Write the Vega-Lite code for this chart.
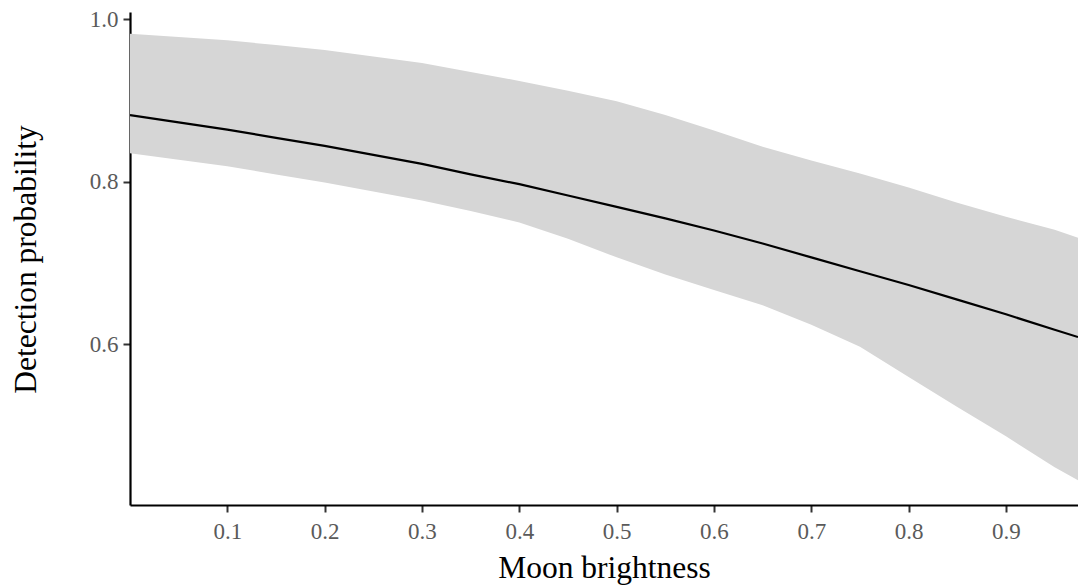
{
  "$schema": "https://vega.github.io/schema/vega-lite/v6.json",
  "width": 948,
  "height": 493,
  "autosize": "none",
  "padding": {"left": 130, "top": 12, "right": 0, "bottom": 80},
  "background": "white",
  "config": {
    "view": {"stroke": null},
    "font": "Liberation Serif"
  },
  "data": {
    "values": [
      {"moon": 0.0, "fit": 0.882, "lower": 0.835, "upper": 0.982},
      {"moon": 0.05, "fit": 0.873, "lower": 0.827, "upper": 0.978},
      {"moon": 0.1, "fit": 0.864, "lower": 0.819, "upper": 0.974},
      {"moon": 0.15, "fit": 0.854, "lower": 0.809, "upper": 0.968},
      {"moon": 0.2, "fit": 0.844, "lower": 0.799, "upper": 0.962},
      {"moon": 0.25, "fit": 0.833, "lower": 0.788, "upper": 0.954},
      {"moon": 0.3, "fit": 0.822, "lower": 0.777, "upper": 0.946},
      {"moon": 0.35, "fit": 0.809, "lower": 0.764, "upper": 0.935},
      {"moon": 0.4, "fit": 0.797, "lower": 0.75, "upper": 0.924},
      {"moon": 0.45, "fit": 0.783, "lower": 0.73, "upper": 0.912},
      {"moon": 0.5, "fit": 0.769, "lower": 0.707, "upper": 0.899},
      {"moon": 0.55, "fit": 0.755, "lower": 0.686, "upper": 0.882},
      {"moon": 0.6, "fit": 0.74, "lower": 0.667, "upper": 0.863},
      {"moon": 0.65, "fit": 0.724, "lower": 0.648, "upper": 0.843},
      {"moon": 0.7, "fit": 0.707, "lower": 0.624, "upper": 0.826},
      {"moon": 0.75, "fit": 0.69, "lower": 0.597, "upper": 0.81},
      {"moon": 0.8, "fit": 0.673, "lower": 0.56, "upper": 0.793},
      {"moon": 0.85, "fit": 0.655, "lower": 0.523, "upper": 0.774},
      {"moon": 0.9, "fit": 0.637, "lower": 0.487, "upper": 0.757},
      {"moon": 0.95, "fit": 0.618, "lower": 0.449, "upper": 0.741},
      {"moon": 0.974, "fit": 0.609, "lower": 0.433, "upper": 0.731}
    ]
  },
  "encoding": {
    "x": {
      "field": "moon",
      "type": "quantitative",
      "title": "Moon brightness",
      "scale": {"domain": [0, 0.974], "nice": false, "zero": false},
      "axis": {
        "values": [0.1, 0.2, 0.3, 0.4, 0.5, 0.6, 0.7, 0.8, 0.9],
        "format": ".1f",
        "grid": false,
        "domainColor": "#000000",
        "domainWidth": 2.2,
        "tickColor": "#333333",
        "tickWidth": 2,
        "tickSize": 7,
        "labelFont": "Liberation Serif",
        "labelFontSize": 23,
        "labelColor": "#5a5a5a",
        "labelPadding": 8,
        "titleFont": "Liberation Serif",
        "titleFontSize": 31.5,
        "titleFontWeight": "normal",
        "titleColor": "#000000",
        "titleBaseline": "alphabetic",
        "titleY": 72
      }
    }
  },
  "layer": [
    {
      "mark": {"type": "area", "color": "#d6d6d6", "opacity": 1, "clip": true},
      "encoding": {
        "y": {
          "field": "lower",
          "type": "quantitative",
          "title": "Detection probability",
          "scale": {"domain": [0.4025, 1.0087], "nice": false, "zero": false},
          "axis": {
            "values": [0.6, 0.8, 1.0],
            "format": ".1f",
            "grid": false,
            "domainColor": "#000000",
            "domainWidth": 2.2,
            "tickColor": "#333333",
            "tickWidth": 2,
            "tickSize": 7,
            "labelFont": "Liberation Serif",
            "labelFontSize": 23,
            "labelColor": "#5a5a5a",
            "labelPadding": 5,
            "titleFont": "Liberation Serif",
            "titleFontSize": 31.5,
            "titleFontWeight": "normal",
            "titleColor": "#000000",
            "titleBaseline": "alphabetic",
            "titleAngle": 270,
            "titleX": -95,
            "titleY": 247
          }
        },
        "y2": {"field": "upper"}
      }
    },
    {
      "mark": {"type": "line", "color": "#000000", "strokeWidth": 2.2, "clip": true},
      "encoding": {
        "y": {"field": "fit", "type": "quantitative"}
      }
    }
  ]
}
